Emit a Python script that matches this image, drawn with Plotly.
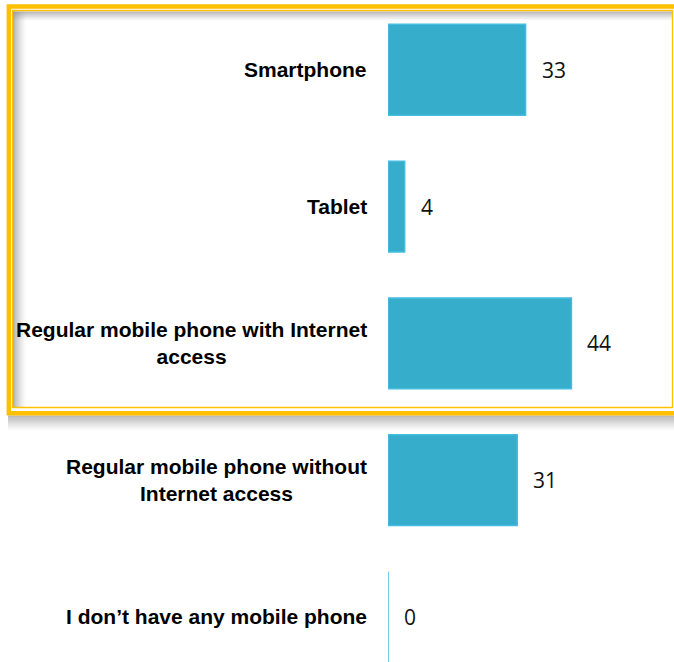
import plotly.graph_objects as go

# Survey answers: which mobile device is used (values in %)
categories = [
    "Smartphone",
    "Tablet",
    "Regular mobile phone with Internet<br>access",
    "Regular mobile phone without<br>Internet access",
    "I don’t have any mobile phone",
]
values = [33, 4, 44, 31, 0]

W, H = 674, 662
BAR_FILL = "#35adcb"
BAR_EDGE = "#45bde0"
ORANGE = "#ffc000"


def px(x):
    return x / W


def py(y):
    return 1 - y / H


fig = go.Figure()
fig.add_trace(
    go.Bar(
        x=values,
        y=list(range(len(categories))),
        orientation="h",
        width=0.664,
        marker=dict(color=BAR_FILL, line=dict(color=BAR_EDGE, width=1.5)),
        hoverinfo="skip",
    )
)

annotations = []
for i, (cat, v) in enumerate(zip(categories, values)):
    # category label, right aligned against the bars, centred lines
    annotations.append(
        dict(
            x=px(369), xref="paper", y=i, yref="y",
            text=cat, showarrow=False, xanchor="right", yanchor="middle",
            align="center",
            font=dict(family="Liberation Sans, Arial", size=21, color="#000000", weight="bold"),
        )
    )
    # value label just past the bar end
    annotations.append(
        dict(
            x=v, xref="x", y=i, yref="y", text=str(v), showarrow=False,
            xanchor="left", yanchor="middle", xshift=14,
            font=dict(family="Open Sans", size=21, color="#111111"),
        )
    )

shapes = []


def gradient(x0, y0, x1, y1, direction, n, gray, alpha0):
    """Soft shadow made of thin stripes fading out along `direction`."""
    for k in range(n):
        t = k / n
        a = alpha0 * (1 - t) ** 1.4
        if direction == "down":
            h = (y1 - y0) / n
            r = (x0, y0 + k * h, x1, y0 + (k + 1) * h)
        else:  # right
            w = (x1 - x0) / n
            r = (x0 + k * w, y0, x0 + (k + 1) * w, y1)
        shapes.append(
            dict(
                type="rect", xref="paper", yref="paper", layer="below",
                x0=px(r[0]), x1=px(r[2]), y0=py(r[1]), y1=py(r[3]),
                fillcolor=f"rgba({gray},{gray},{gray},{a:.3f})", line=dict(width=0),
            )
        )


# framed highlight box with soft shadows
gradient(13, 11.5, 672, 21, "down", 10, 140, 0.7)
gradient(13, 11.5, 26, 407, "right", 12, 140, 0.7)
gradient(8, 415.5, 678, 431, "down", 15, 130, 0.65)
shapes.append(
    dict(type="rect", xref="paper", yref="paper", layer="below",
         x0=px(12.5), x1=px(672.5), y0=py(10.5), y1=py(407.5),
         line=dict(color=ORANGE, width=1.3))
)
shapes.append(
    dict(type="rect", xref="paper", yref="paper", layer="below",
         x0=px(8.8), x1=px(678), y0=py(6.5), y1=py(413.2),
         line=dict(color=ORANGE, width=4.5))
)

fig.update_layout(
    width=W,
    height=H,
    margin=dict(l=0, r=0, t=0, b=0),
    paper_bgcolor="white",
    plot_bgcolor="rgba(0,0,0,0)",
    showlegend=False,
    xaxis=dict(domain=[px(388), 1], range=[0, 68.6], visible=False, fixedrange=True),
    yaxis=dict(range=[4.329, -0.510], visible=False, fixedrange=True),
    annotations=annotations,
    shapes=shapes,
)

fig.write_html("out.html")
